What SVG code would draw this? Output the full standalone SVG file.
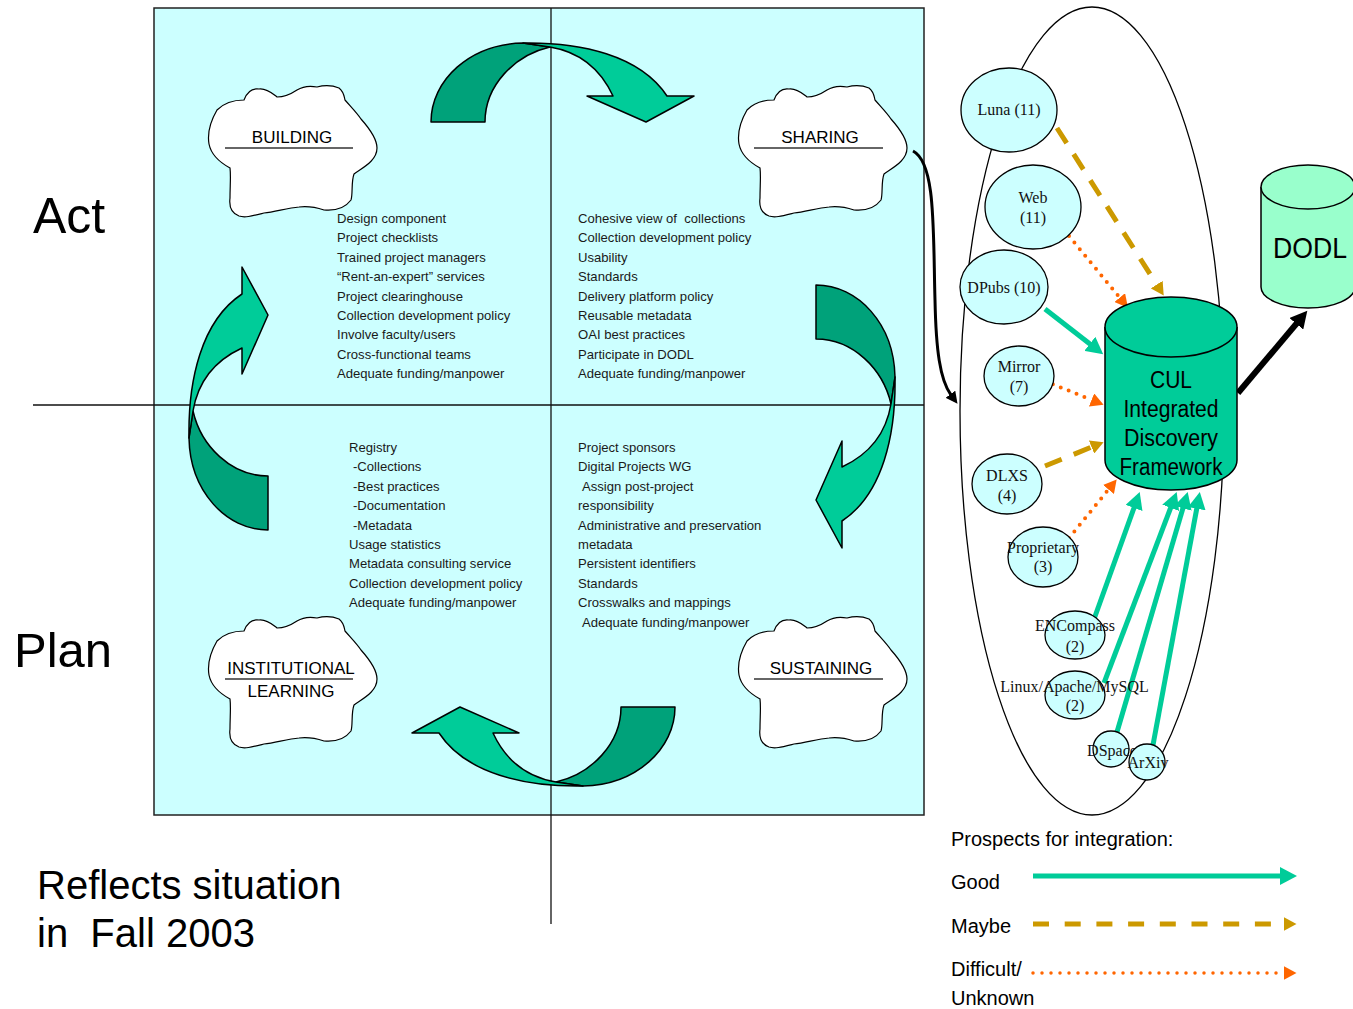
<svg xmlns="http://www.w3.org/2000/svg" width="1353" height="1009" viewBox="0 0 1353 1009">
<style>
.q{font-family:"Liberation Sans",Arial,sans-serif;font-size:13.1px;fill:#1a1a1a}
.cl{font-family:"Liberation Sans",Arial,sans-serif;font-size:17px;fill:#000;text-anchor:middle}
.big{font-family:"Liberation Sans",Arial,sans-serif;fill:#000}
.nd{font-family:"Liberation Serif","Times New Roman",serif;font-size:16px;fill:#111;text-anchor:middle}
.node{fill:#ccffff;stroke:#000;stroke-width:1.3}
.cloud{fill:#fff;stroke:#000;stroke-width:1.2}
.good{fill:none;stroke:#00cc99;stroke-width:5}
.maybe{fill:none;stroke:#cc9900;stroke-width:5;stroke-dasharray:18 13}
.diff{fill:none;stroke:#ff6600;stroke-width:4;stroke-dasharray:0 8.5;stroke-linecap:round}
.dk{fill:#00a27a;stroke:#000;stroke-width:1.5;stroke-linejoin:round}
.lt{fill:#00cc99;stroke:#000;stroke-width:1.5;stroke-linejoin:round}
.ul{stroke:#333;stroke-width:1.3}
</style>
<defs>
<marker id="mGood" markerUnits="userSpaceOnUse" markerWidth="18" markerHeight="18" refX="1" refY="9" orient="auto"><path d="M0,0 L17,9 L0,18 Z" fill="#00cc99"/></marker>
<marker id="mMaybe" markerUnits="userSpaceOnUse" markerWidth="14" markerHeight="14" refX="0.5" refY="7" orient="auto"><path d="M0,0 L13,7 L0,14 Z" fill="#cc9900"/></marker>
<marker id="mDiff" markerUnits="userSpaceOnUse" markerWidth="14" markerHeight="14" refX="0.5" refY="7" orient="auto"><path d="M0,0 L13,7 L0,14 Z" fill="#ff6600"/></marker>
<marker id="mBlack" markerUnits="userSpaceOnUse" markerWidth="18" markerHeight="18" refX="1" refY="9" orient="auto"><path d="M0,0 L17,9 L0,18 Z" fill="#000"/></marker>
<marker id="mBlackS" markerUnits="userSpaceOnUse" markerWidth="13" markerHeight="12" refX="1" refY="6" orient="auto"><path d="M0,0 L12,6 L0,12 Z" fill="#000"/></marker>
<path id="cloudShape" d="M10,24 C18,16 30,14 37,14 C40,6 45,2 52,3 C60,2 66,8 70,11 C78,11 84,8 90,4 C98,-1 105,0 110,1 C118,-1 127,0 132,2 C137,6 137,10 138,14 C145,22 150,27 154,33 C162,42 170,52 170,62 C170,75 155,82 147,88 C144,96 146,108 144,114 C138,122 128,125 117,124 C108,121 100,120 92,121 C80,122 68,126 57,127 C45,130 38,132 32,130 C24,127 22,120 23,112 C23,100 24,90 23,82 C12,76 4,68 2,58 C0,46 3,36 10,24 Z"/>
<g id="cycArrow">
<path class="dk" d="M431,122 C431,80 470,44 523,43 L550,47 C515,55 485,85 485,122 Z"/>
<path class="lt" d="M523,43 C580,42 640,55 667,96 L694,96 L646,122 L587,96 L613,96 C600,68 580,52 550,47 Z"/>
</g>
</defs>

<g id="quadrants">
<rect x="154" y="8" width="770" height="807" fill="#ccffff" stroke="#222" stroke-width="1.5"/>
<line x1="551" y1="8" x2="551" y2="924" stroke="#111" stroke-width="1.3"/>
<line x1="33" y1="405" x2="924" y2="405" stroke="#111" stroke-width="1.3"/>
</g>

<g id="cycle-arrows">
<use href="#cycArrow"/>
<use href="#cycArrow" transform="translate(-18,0) rotate(90 551 405)"/>
<use href="#cycArrow" transform="translate(4,19) rotate(180 551 405)"/>
<use href="#cycArrow" transform="translate(0,5) rotate(-90 551 405)"/>
</g>

<g id="building">
<use href="#cloudShape" class="cloud" transform="translate(207,86)"/>
<text class="cl" x="292" y="143">BUILDING</text>
<line class="ul" x1="225" y1="148" x2="353" y2="148"/>
</g>
<g id="sharing">
<use href="#cloudShape" class="cloud" transform="translate(737,86)"/>
<text class="cl" x="820" y="143">SHARING</text>
<line class="ul" x1="754" y1="148" x2="883" y2="148"/>
</g>
<g id="institutional-learning">
<use href="#cloudShape" class="cloud" transform="translate(207,617)"/>
<text class="cl" x="291" y="674">INSTITUTIONAL</text>
<line class="ul" x1="225" y1="679" x2="353" y2="679"/>
<text class="cl" x="291" y="697">LEARNING</text>
</g>
<g id="sustaining">
<use href="#cloudShape" class="cloud" transform="translate(737,617)"/>
<text class="cl" x="821" y="674">SUSTAINING</text>
<line class="ul" x1="754" y1="679" x2="883" y2="679"/>
</g>

<g id="text-building" class="q">
<text x="337" y="223">Design component</text>
<text x="337" y="242.4">Project checklists</text>
<text x="337" y="261.8">Trained project managers</text>
<text x="337" y="281.2">“Rent-an-expert” services</text>
<text x="337" y="300.6">Project clearinghouse</text>
<text x="337" y="320">Collection development policy</text>
<text x="337" y="339.4">Involve faculty/users</text>
<text x="337" y="358.8">Cross-functional teams</text>
<text x="337" y="378.2">Adequate funding/manpower</text>
</g>
<g id="text-sharing" class="q">
<text x="578" y="223" style="white-space:pre">Cohesive view of  collections</text>
<text x="578" y="242.4">Collection development policy</text>
<text x="578" y="261.8">Usability</text>
<text x="578" y="281.2">Standards</text>
<text x="578" y="300.6">Delivery platform policy</text>
<text x="578" y="320">Reusable metadata</text>
<text x="578" y="339.4">OAI best practices</text>
<text x="578" y="358.8">Participate in DODL</text>
<text x="578" y="378.2">Adequate funding/manpower</text>
</g>
<g id="text-learning" class="q">
<text x="349" y="452">Registry</text>
<text x="353" y="471.4">-Collections</text>
<text x="353" y="490.8">-Best practices</text>
<text x="353" y="510.2">-Documentation</text>
<text x="353" y="529.6">-Metadata</text>
<text x="349" y="549">Usage statistics</text>
<text x="349" y="568.4">Metadata consulting service</text>
<text x="349" y="587.8">Collection development policy</text>
<text x="349" y="607.2">Adequate funding/manpower</text>
</g>
<g id="text-sustaining" class="q">
<text x="578" y="452">Project sponsors</text>
<text x="578" y="471.4">Digital Projects WG</text>
<text x="582" y="490.8">Assign post-project</text>
<text x="578" y="510.2">responsibility</text>
<text x="578" y="529.6">Administrative and preservation</text>
<text x="578" y="549">metadata</text>
<text x="578" y="568.4">Persistent identifiers</text>
<text x="578" y="587.8">Standards</text>
<text x="578" y="607.2">Crosswalks and mappings</text>
<text x="582" y="626.6">Adequate funding/manpower</text>
</g>

<g id="labels" class="big">
<text x="33" y="233" font-size="50">Act</text>
<text x="14" y="667" font-size="49">Plan</text>
<text x="37" y="899" font-size="40">Reflects situation</text>
<text x="37" y="947" font-size="40" style="white-space:pre">in  Fall 2003</text>
</g>

<g id="systems-oval">
<ellipse cx="1092" cy="411" rx="132" ry="404" fill="#fff" stroke="#000" stroke-width="1.3"/>
</g>

<g id="connectors">
<path d="M913,151 C936,163 933,230 935,300 C936,350 940,380 951,395" fill="none" stroke="#000" stroke-width="3" marker-end="url(#mBlackS)"/>
<line class="maybe" x1="1057" y1="128" x2="1157" y2="285" marker-end="url(#mMaybe)"/>
<line class="diff" x1="1069" y1="236" x2="1120" y2="298" marker-end="url(#mDiff)"/>
<line class="good" x1="1045" y1="309" x2="1090.6" y2="344.5" marker-end="url(#mGood)"/>
<line class="diff" x1="1045" y1="381" x2="1092" y2="400.1" marker-end="url(#mDiff)"/>
<line class="maybe" x1="1045" y1="466" x2="1092" y2="446.9" marker-end="url(#mMaybe)"/>
<line class="diff" x1="1069" y1="538" x2="1108.8" y2="489.1" marker-end="url(#mDiff)"/>
<line class="good" x1="1093" y1="622" x2="1134.3" y2="507" marker-end="url(#mGood)"/>
<line class="good" x1="1104" y1="683" x2="1171" y2="506.9" marker-end="url(#mGood)"/>
<line class="good" x1="1117" y1="732" x2="1183.2" y2="507.3" marker-end="url(#mGood)"/>
<line class="good" x1="1153" y1="745" x2="1196.9" y2="507.7" marker-end="url(#mGood)"/>
<line x1="1238" y1="393" x2="1297" y2="323" stroke="#000" stroke-width="6" marker-end="url(#mBlack)"/>
</g>

<g id="luna"><ellipse class="node" cx="1009" cy="110" rx="48" ry="42"/><text class="nd" x="1009" y="115">Luna (11)</text></g>
<g id="web"><ellipse class="node" cx="1033" cy="207" rx="48" ry="42"/><text class="nd" x="1033" y="203">Web</text><text class="nd" x="1033" y="223">(11)</text></g>
<g id="dpubs"><ellipse class="node" cx="1004" cy="287" rx="44" ry="37"/><text class="nd" x="1004" y="293">DPubs (10)</text></g>
<g id="mirror"><ellipse class="node" cx="1019" cy="376" rx="35" ry="30"/><text class="nd" x="1019" y="372">Mirror</text><text class="nd" x="1019" y="392">(7)</text></g>
<g id="dlxs"><ellipse class="node" cx="1007" cy="484" rx="35" ry="30"/><text class="nd" x="1007" y="481">DLXS</text><text class="nd" x="1007" y="501">(4)</text></g>
<g id="proprietary"><ellipse class="node" cx="1043" cy="557" rx="35" ry="30"/><text class="nd" x="1043" y="553">Proprietary</text><text class="nd" x="1043" y="572">(3)</text></g>
<g id="encompass"><ellipse class="node" cx="1075" cy="635" rx="30" ry="24"/><text class="nd" x="1075" y="631">ENCompass</text><text class="nd" x="1075" y="652">(2)</text></g>
<g id="lamp"><ellipse class="node" cx="1075" cy="695" rx="30" ry="24"/><text class="nd" x="1074.5" y="692">Linux/Apache/MySQL</text><text class="nd" x="1075" y="711">(2)</text></g>
<g id="dspace"><circle class="node" cx="1111" cy="749" r="18"/><text class="nd" x="1112" y="756">DSpace</text></g>
<g id="arxiv"><circle class="node" cx="1147" cy="762" r="18"/><text class="nd" x="1148" y="768">ArXiv</text></g>

<g id="cul-idf">
<path d="M1105,327 L1105,460 A66,30 0 0 0 1237,460 L1237,327" fill="#00cc99" stroke="#000" stroke-width="1.5"/>
<ellipse cx="1171" cy="327" rx="66" ry="30" fill="#00cc99" stroke="#000" stroke-width="1.5"/>
<g class="big" font-size="23" text-anchor="middle">
<text x="1171" y="388" textLength="42" lengthAdjust="spacingAndGlyphs">CUL</text>
<text x="1171" y="417" textLength="95" lengthAdjust="spacingAndGlyphs">Integrated</text>
<text x="1171" y="446" textLength="94" lengthAdjust="spacingAndGlyphs">Discovery</text>
<text x="1171" y="475" textLength="103" lengthAdjust="spacingAndGlyphs">Framework</text>
</g>
</g>

<g id="dodl">
<path d="M1261,187 L1261,287 A47,21 0 0 0 1355,287 L1355,187" fill="#99ffcc" stroke="#000" stroke-width="1.5"/>
<ellipse cx="1308" cy="187" rx="47" ry="22" fill="#99ffcc" stroke="#000" stroke-width="1.5"/>
<text class="big" x="1310" y="258" font-size="29" text-anchor="middle" textLength="74" lengthAdjust="spacingAndGlyphs">DODL</text>
</g>

<g id="legend">
<text class="big" x="951" y="846" font-size="20">Prospects for integration:</text>
<text class="big" x="951" y="889" font-size="20">Good</text>
<text class="big" x="951" y="933" font-size="20">Maybe</text>
<text class="big" x="951" y="976" font-size="20">Difficult/</text>
<text class="big" x="951" y="1005" font-size="20">Unknown</text>
<line class="good" x1="1033" y1="876" x2="1281" y2="876" marker-end="url(#mGood)"/>
<line class="maybe" x1="1033" y1="924" x2="1284" y2="924" style="stroke-dasharray:16 15.7" marker-end="url(#mMaybe)"/>
<line class="diff" x1="1033" y1="973" x2="1284" y2="973" style="stroke-dasharray:0 9;stroke-width:3.5" marker-end="url(#mDiff)"/>
</g>
</svg>
